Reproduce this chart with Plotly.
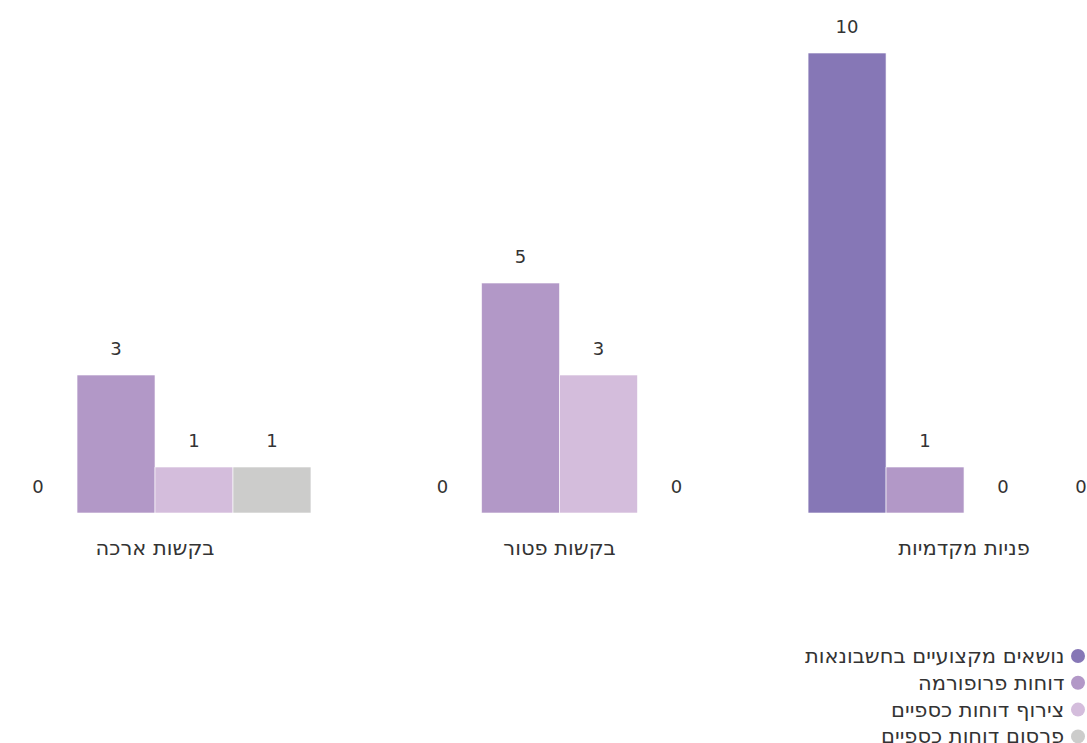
import plotly.graph_objects as go

# Categories (left to right as drawn) and one list of values per series
categories = ["בקשות ארכה", "בקשות פטור", "פניות מקדמיות"]
series_names = ["נושאים מקצועיים בחשבונאות", "דוחות פרופורמה",
                "צירוף דוחות כספיים", "פרסום דוחות כספיים"]
professional = [0, 0, 10]
proforma = [3, 5, 1]
attach_reports = [1, 3, 0]
publish_reports = [1, 0, 0]
series_values = [professional, proforma, attach_reports, publish_reports]
colors = ["#8677b6", "#b298c7", "#d4bddc", "#cccccb"]

W, H = 1087, 743
M_T, M_B = 28, 230
FONT = "DejaVu Sans, Liberation Sans, sans-serif"
TXT = "#333333"

fig = go.Figure()
for name, vals, col in zip(series_names, series_values, colors):
    fig.add_trace(go.Bar(
        x=categories, y=vals, name=name,
        marker=dict(color=col, line=dict(color="rgba(255,255,255,0.6)", width=1)),
        texttemplate="<span style='font-size:18px'>%{y}</span><br>&nbsp;",
        textposition="outside", constraintext="none",
        textfont=dict(color=TXT, size=11, family=FONT),
        cliponaxis=False, showlegend=False,
        hovertemplate=name + ": %{y}<extra>%{x}</extra>",
    ))

# RTL legend: text on the left, coloured dot on the right
plot_h = H - M_T - M_B
row0_px, row_step = 656, 26.8
dot_x, dot_r = 1078, 7
for i, (name, col) in enumerate(zip(series_names, colors)):
    ypx = row0_px + i * row_step
    yp = (H - M_B - ypx) / plot_h
    fig.add_annotation(x=1066 / W, y=yp, xref="paper", yref="paper",
                       text=name, showarrow=False, xanchor="right", yanchor="middle",
                       font=dict(size=21, color=TXT, family=FONT))
    fig.add_shape(type="circle", xref="paper", yref="paper",
                  x0=(dot_x - dot_r) / W, x1=(dot_x + dot_r) / W,
                  y0=yp - dot_r / plot_h, y1=yp + dot_r / plot_h,
                  fillcolor=col, line=dict(width=0))

fig.update_layout(
    width=W, height=H,
    margin=dict(l=0, r=0, t=M_T, b=M_B),
    barmode="group", bargap=0.229, bargroupgap=0,
    plot_bgcolor="white", paper_bgcolor="white",
    font=dict(family=FONT, color=TXT),
    xaxis=dict(range=[-0.3832, 2.304], showgrid=False, zeroline=False, showline=False,
               ticks="outside", ticklen=16, tickcolor="rgba(0,0,0,0)",
               tickfont=dict(size=21, color=TXT, family=FONT)),
    yaxis=dict(range=[0, plot_h / 46], visible=False, showgrid=False, zeroline=False),
)

# the page body's default 8px margin would push the figure off the window
fig.write_html("out.html", config={"displayModeBar": False},
               post_script="document.body.style.margin='0';")
